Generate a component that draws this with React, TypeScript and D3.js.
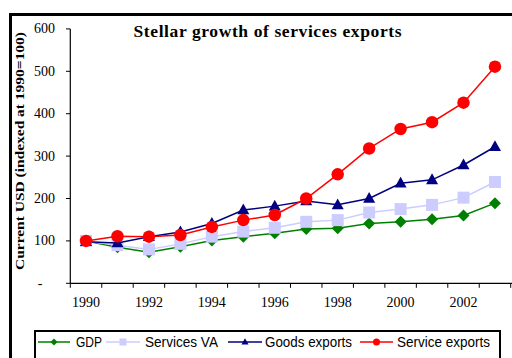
import React from "react";
import * as d3 from "d3";

const years = [1990,1991,1992,1993,1994,1995,1996,1997,1998,1999,2000,2001,2002,2003];
const gdp = [100,85,73,86,101,110,118,128,130,141,145,151,160,189];
const servicesVA = [100,90,80,93,110,122,131,145,149,167,175,185,202,239];
const goodsExports = [98,95,110,121,141,173,182,194,185,200,236,244,279,322];
const serviceExports = [100,111,110,114,133,149,161,200,257,318,364,380,426,511];
const yTicks = [0,100,200,300,400,500,600];
const xLabels = [1990,1992,1994,1996,1998,2000,2002];

const series = [
  { name: "GDP", values: gdp, color: "#008000", marker: "diamond" },
  { name: "Services VA", values: servicesVA, color: "#CCCCFF", marker: "square" },
  { name: "Goods exports", values: goodsExports, color: "#000080", marker: "triangle" },
  { name: "Service exports", values: serviceExports, color: "#FF0000", marker: "circle" },
];

function Marker({ type, x, y, s, color }: { type: string; x: number; y: number; s: number; color: string }) {
  if (type === "circle") return <circle cx={x} cy={y} r={s / 2} fill={color} />;
  if (type === "square") return <rect x={x - s / 2} y={y - s / 2} width={s} height={s} fill={color} />;
  if (type === "diamond")
    return <path d={`M${x},${y - s / 2}L${x + s / 2},${y}L${x},${y + s / 2}L${x - s / 2},${y}Z`} fill={color} />;
  const h = s * 0.9;
  return <path d={`M${x},${y - h * 0.6}L${x + s / 2},${y + h * 0.4}L${x - s / 2},${y + h * 0.4}Z`} fill={color} />;
}

export default function App() {
  const x = d3.scaleBand<number>().domain(years).range([70.3, 510.7]).padding(0);
  const bw = x.bandwidth();
  const cx = (yr: number) => (x(yr) as number) + bw / 2;
  const y = d3.scaleLinear().domain([0, 600]).range([283.3, 28.9]);
  const tickXs = [...years.map((yr) => x(yr) as number), 510.7];
  const serif = "'Liberation Serif', 'Times New Roman', serif";
  const sans = "'Liberation Sans', Arial, sans-serif";

  const legendItems = [
    { lx0: 38, lx1: 70, tx: 76, tl: 26 },
    { lx0: 106, lx1: 140, tx: 145, tl: 73 },
    { lx0: 228, lx1: 262, tx: 265, tl: 87 },
    { lx0: 360, lx1: 393, tx: 397, tl: 93 },
  ];

  return (
    <svg width={512} height={358} style={{ position: "absolute", left: 0, top: 0, background: "#fff" }}>
      <rect x={0} y={0} width={512} height={358} fill="#fff" />
      {/* outer frame */}
      <rect x={10.5} y={14.5} width={520} height={400} fill="none" stroke="#000" strokeWidth={3} />
      {/* title */}
      <text x={267.5} y={36.5} textAnchor="middle" fontFamily={serif} fontWeight="bold" fontSize={17.5} textLength={268} lengthAdjust="spacing">
        Stellar growth of services exports
      </text>
      {/* y axis title */}
      <text transform="translate(24,151) rotate(-90)" textAnchor="middle" fontFamily={serif} fontWeight="bold" fontSize={13.5} textLength={238} lengthAdjust="spacingAndGlyphs">
        Current USD (indexed at 1990=100)
      </text>
      {/* axes */}
      <line x1={70.3} x2={70.3} y1={y(600)} y2={y(0)} stroke="#000" strokeWidth={1.2} />
      <line x1={70.3} x2={512} y1={y(0)} y2={y(0)} stroke="#000" strokeWidth={1.2} />
      {yTicks.map((t) => (
        <g key={t}>
          <line x1={66} x2={70.3} y1={y(t)} y2={y(t)} stroke="#000" strokeWidth={1} />
          {t === 0 ? (
            <text x={40} y={y(t) + 4.5} textAnchor="middle" fontFamily={serif} fontSize={14}>-</text>
          ) : (
            <text x={55} y={y(t) + 4.5} textAnchor="end" fontFamily={serif} fontSize={14}>{t}</text>
          )}
        </g>
      ))}
      {tickXs.map((tx, i) => (
        <line key={i} x1={tx} x2={tx} y1={y(0)} y2={y(0) + 4.5} stroke="#000" strokeWidth={1} />
      ))}
      {xLabels.map((yr) => (
        <text key={yr} x={cx(yr)} y={306.5} textAnchor="middle" fontFamily={serif} fontSize={14}>{yr}</text>
      ))}
      {/* series */}
      {series.map((s) => {
        const line = d3.line<number>().x((_, i) => cx(years[i])).y((v) => y(v));
        return (
          <g key={s.name}>
            <path d={line(s.values) || ""} fill="none" stroke={s.color} strokeWidth={1.5} />
            {s.values.map((v, i) => (
              <Marker key={i} type={s.marker} x={cx(years[i])} y={y(v)} s={s.marker === "circle" ? 12.5 : s.marker === "diamond" ? 12 : 12} color={s.color} />
            ))}
          </g>
        );
      })}
      {/* legend */}
      <rect x={35} y={331} width={465} height={30} fill="#fff" stroke="#000" strokeWidth={2} />
      {series.map((s, i) => {
        const it = legendItems[i];
        return (
          <g key={s.name}>
            <line x1={it.lx0} x2={it.lx1} y1={342} y2={342} stroke={s.color} strokeWidth={1.5} />
            <Marker type={s.marker} x={(it.lx0 + it.lx1) / 2} y={342} s={7} color={s.color} />
            <text x={it.tx} y={347} fontFamily={sans} fontSize={14.5} textLength={it.tl} lengthAdjust="spacingAndGlyphs">{s.name}</text>
          </g>
        );
      })}
    </svg>
  );
}
